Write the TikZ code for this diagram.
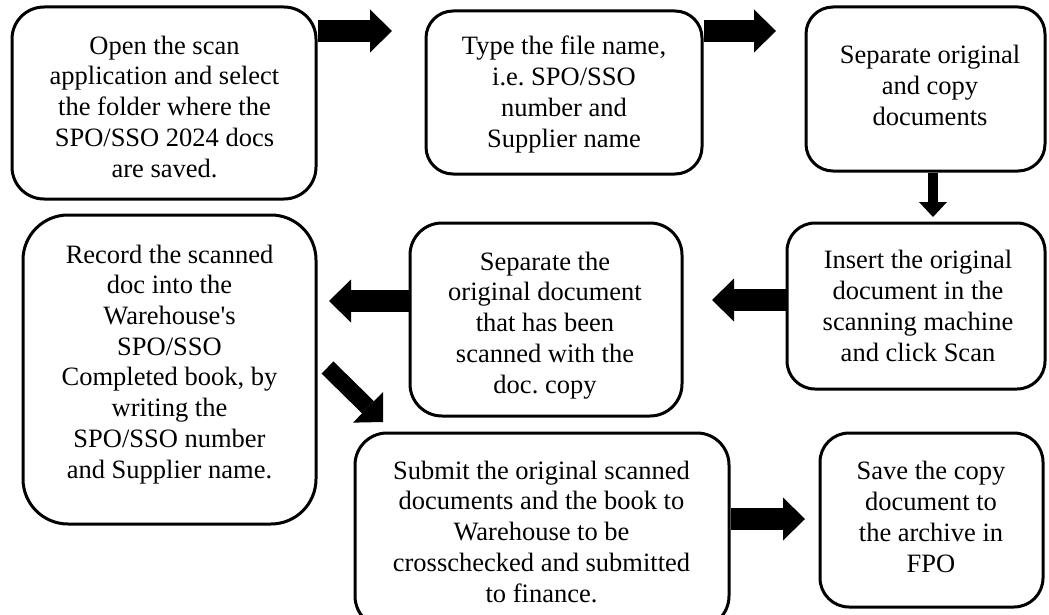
\documentclass[tikz,border=0pt]{standalone}
\usepackage{fontspec}
\setmainfont{Liberation Serif}
\usetikzlibrary{arrows.meta}
\frenchspacing
\begin{document}
\begin{tikzpicture}[x=1pt,y=-1pt,
  stepbox/.style={draw=black, line width=3pt, fill=white, inner sep=0pt, rounded corners=#1},
  txt/.style={align=center, inner sep=0pt, anchor=base,
              font=\fontsize{26.5pt}{30.7pt}\selectfont},
  blk/.style={line width=22pt, -{Triangle[length=22pt,width=43pt,line width=0pt]}},
  blksmall/.style={line width=10pt, -{Triangle[length=15pt,width=28pt,line width=0pt]}},
  blkdiag/.style={line width=17pt, -{Triangle[length=21pt,width=43pt,line width=0pt]}}]

% page
\fill[white] (0,0) rectangle (1049,615);
\useasboundingbox (0,0) rectangle (1049,615);

% step boxes
\node[stepbox=32pt, minimum width=304pt, minimum height=192pt] (b1) at (164,103) {};
\node[stepbox=27pt, minimum width=276pt, minimum height=163pt] (b2) at (564,92.5) {};
\node[stepbox=27pt, minimum width=239pt, minimum height=164pt] (b3) at (925.5,89) {};
\node[stepbox=28pt, minimum width=258pt, minimum height=166pt] (b4) at (916,306) {};
\node[stepbox=32pt, minimum width=272pt, minimum height=193pt] (b5) at (546,319.5) {};
\node[stepbox=45pt, minimum width=293pt, minimum height=309pt] (b6) at (169.5,369.5) {};
\node[stepbox=32pt, minimum width=374pt, minimum height=195pt] (b7) at (542,530.5) {};
\node[stepbox=29pt, minimum width=223pt, minimum height=174pt] (b8) at (931.5,520) {};

% step texts (placed by the baseline of their last line)
\node[txt] (t1) at (164.5,177) {Open the scan\\application and select\\the folder where the\\SPO/SSO 2024 docs\\are saved.};
\node[txt] (t2) at (564,147) {Type the file name,\\i.e. SPO/SSO\\number and\\Supplier name};
\node[txt] (t3) at (930,125) {Separate original\\and copy\\documents};
\node[txt] (t4) at (918,361) {Insert the original\\document in the\\scanning machine\\and click Scan};
\node[txt] (t5) at (545,393) {Separate the\\original document\\that has been\\scanned with the\\doc. copy};
\node[txt] (t6) at (169.5,478) {Record the scanned\\doc into the\\Warehouse\textquotesingle s\\SPO/SSO\\Completed book, by\\writing the\\SPO/SSO number\\and Supplier name.};
\node[txt] (t7) at (541.5,602) {Submit the original scanned\\documents and the book to\\Warehouse to be\\crosschecked and submitted\\to finance.};
\node[txt] (t8) at (931,572) {Save the copy\\document to\\the archive in\\FPO};

% arrow ends
\coordinate (p1) at (392,31);
\coordinate (p2) at (776,31);
\coordinate (p3) at (933,217);
\coordinate (p4) at (712,300);
\coordinate (p5) at (329,301);
\coordinate (q6) at (327.5,367.5);
\coordinate (p6) at (383,422);
\coordinate (p7) at (805,519);

% block arrows
\draw[blk] (b1.east |- p1) -- (p1);
\draw[blk] (b2.east |- p2) -- (p2);
\draw[blksmall] (b3.south -| p3) -- (p3);
\draw[blk] (b4.west |- p4) -- (p4);
\draw[blk] (b5.west |- p5) -- (p5);
\draw[blkdiag] (q6) -- (p6);
\draw[blk] (b7.east |- p7) -- (p7);
\end{tikzpicture}
\end{document}
